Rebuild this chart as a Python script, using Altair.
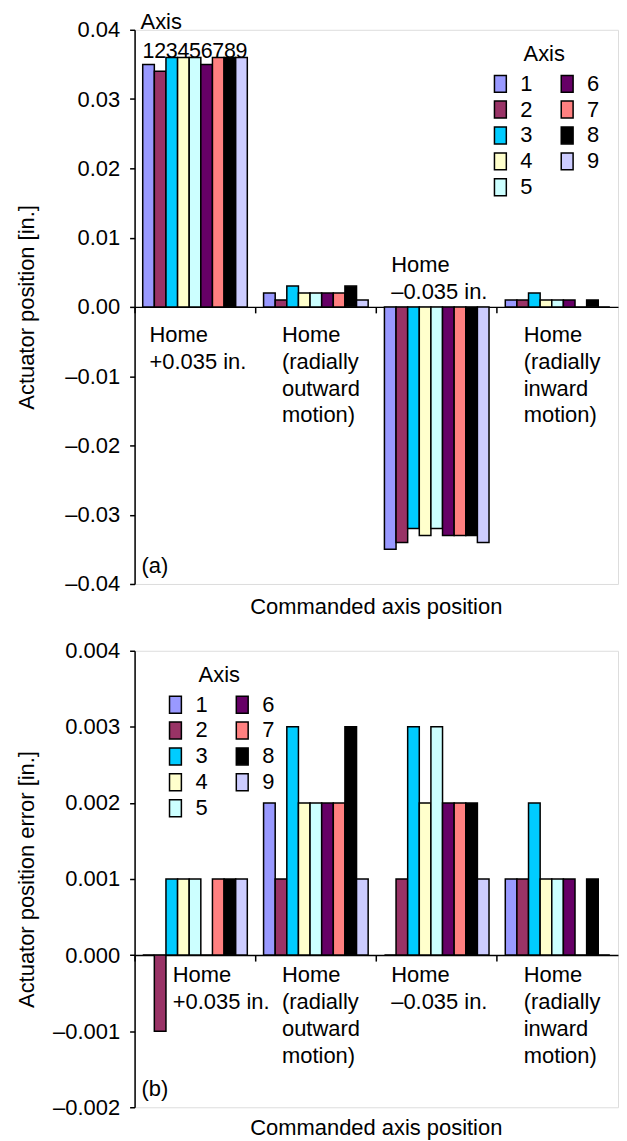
import altair as alt
import pandas as pd

FONT = "Liberation Sans"
FS = 22

# ---------------- data ----------------
axis_ids = ["1", "2", "3", "4", "5", "6", "7", "8", "9"]
axis_colors = ["#9999FF", "#993366", "#00CCFF", "#FFFFCC", "#CCFFFF",
               "#660066", "#FF8080", "#000000", "#CCCCFF"]

groups = ["g1", "g2", "g3", "g4"]

# (a) actuator position [in.]
pos_plus = [0.035, 0.034, 0.036, 0.036, 0.036, 0.035, 0.036, 0.036, 0.036]
pos_outward = [0.002, 0.001, 0.003, 0.002, 0.002, 0.002, 0.002, 0.003, 0.001]
pos_minus = [-0.035, -0.034, -0.032, -0.033, -0.032, -0.033, -0.033, -0.033, -0.034]
pos_inward = [0.001, 0.001, 0.002, 0.001, 0.001, 0.001, 0.0, 0.001, 0.0]

# (b) actuator position error [in.]
err_plus = [0.0, -0.001, 0.001, 0.001, 0.001, 0.0, 0.001, 0.001, 0.001]
err_outward = [0.002, 0.001, 0.003, 0.002, 0.002, 0.002, 0.002, 0.003, 0.001]
err_minus = [0.0, 0.001, 0.003, 0.002, 0.003, 0.002, 0.002, 0.002, 0.001]
err_inward = [0.001, 0.001, 0.002, 0.001, 0.001, 0.001, 0.0, 0.001, 0.0]

group_labels = ["Home\n+0.035 in.",
                "Home\n(radially\noutward\nmotion)",
                "Home\n\u20130.035 in.",
                "Home\n(radially\ninward\nmotion)"]
top_label_anchor = ["1", "2", "1", "2"]
top_label_above = [False, False, True, False]
bot_label_anchor = ["3", "2", "1", "2"]
bot_label_above = [False, False, False, False]

top_ticks = [-0.04, -0.03, -0.02, -0.01, 0.0, 0.01, 0.02, 0.03, 0.04]
bot_ticks = [-0.002, -0.001, 0.0, 0.001, 0.002, 0.003, 0.004]


def long_df(series):
    rows = []
    for g, vals in zip(groups, series):
        for a, v in zip(axis_ids, vals):
            rows.append({"grp": g, "axis": a, "value": v})
    return pd.DataFrame(rows)


def label_df(anchors, above):
    return pd.DataFrame({"grp": groups, "label": group_labels,
                         "anchor": anchors, "above": above})


x_scale = alt.Scale(domain=groups, paddingInner=0, paddingOuter=0)
xo_scale = alt.Scale(domain=axis_ids, paddingInner=0, paddingOuter=0.7)
color_scale = alt.Scale(domain=axis_ids, range=axis_colors)


def panel(df, ldf, ydom, yticks, dec, ytitle, W, H, zero_off, leg_xy, tag,
          lab_dy, title_off, extra=None):
    y_axis = alt.Axis(values=yticks, grid=False, domainColor="black", domainWidth=1.5,
                      tickColor="black", tickWidth=1.5, tickSize=5, labelPadding=10,
                      labelFontSize=FS, labelColor="black", labelFont=FONT,
                      labelExpr="(datum.value < -0.0000001 ? '\u2013' : '') + format(abs(datum.value), '.%df')" % dec,
                      title=ytitle, titleFontSize=FS, titleFontWeight="normal",
                      titleColor="black", titleFont=FONT, titleX=-96)
    x_axis = alt.Axis(orient="bottom", offset=zero_off, labels=False, title=None,
                      grid=False, domainColor="black", domainWidth=1.5,
                      ticks=True, tickColor="black", tickWidth=1.5, tickSize=6,
                      bandPosition=0)
    yenc = alt.Y("value:Q", scale=alt.Scale(domain=ydom, nice=False, zero=False),
                 axis=y_axis)
    bars = alt.Chart(df).mark_bar(stroke="black", strokeWidth=1.5).encode(
        x=alt.X("grp:N", scale=x_scale, axis=x_axis),
        xOffset=alt.XOffset("axis:N", scale=xo_scale),
        y=yenc,
        color=alt.Color("axis:N", scale=color_scale, legend=alt.Legend(
            orient="none", legendX=leg_xy[0], legendY=leg_xy[1], columns=2,
            title="Axis", titleAnchor="middle", titleFontSize=FS,
            titleFontWeight="normal", titleFont=FONT, titleColor="black",
            titlePadding=7, labelFontSize=FS, labelFont=FONT, labelColor="black",
            symbolType="M-0.7,-1H0.7V1H-0.7Z", symbolSize=289,
            symbolStrokeColor="black", symbolStrokeWidth=1.5, symbolOpacity=1,
            labelOffset=9, columnPadding=23, rowPadding=2, padding=0)),
    )
    below = alt.Chart(ldf).transform_filter("!datum.above").mark_text(
        align="left", baseline="top", dy=lab_dy, dx=1, fontSize=FS, font=FONT,
        lineBreak="\n", lineHeight=27, color="black").encode(
        x=alt.X("grp:N", scale=x_scale),
        xOffset=alt.XOffset("anchor:N", scale=xo_scale),
        y=alt.datum(0), text="label:N")
    layers = [bars, below]
    if any(ldf["above"]):
        above = alt.Chart(ldf).transform_filter("datum.above").mark_text(
            align="left", baseline="bottom", dy=-30, dx=1, fontSize=FS, font=FONT,
            lineBreak="\n", lineHeight=27, color="black").encode(
            x=alt.X("grp:N", scale=x_scale),
            xOffset=alt.XOffset("anchor:N", scale=xo_scale),
            y=alt.datum(0), text="label:N")
        layers.append(above)
    tag_df = pd.DataFrame({"grp": ["g1"], "anchor": ["1"], "tag": [tag]})
    tag_layer = alt.Chart(tag_df).mark_text(
        align="left", baseline="bottom", dy=-6, dx=-7, fontSize=FS, font=FONT,
        color="black").encode(
        x=alt.X("grp:N", scale=x_scale),
        xOffset=alt.XOffset("anchor:N", scale=xo_scale),
        y=alt.datum(ydom[0]), text="tag:N")
    layers.append(tag_layer)
    if extra:
        layers += extra
    return alt.layer(*layers).properties(
        width=W, height=H,
        title=alt.TitleParams("Commanded axis position", orient="bottom",
                              anchor="middle", frame="group", fontSize=FS,
                              fontWeight="normal", font=FONT, color="black",
                              offset=title_off),
    )


W = 485
H1 = 556
H2 = 458

# header "Axis" and digits 1..9 above first group in panel (a)
digits_df = pd.DataFrame({"grp": ["g1"] * 9, "axis": axis_ids})
digits = alt.Chart(digits_df).mark_text(
    baseline="top", dy=11, fontSize=21.5, font=FONT, color="black").encode(
    x=alt.X("grp:N", scale=x_scale),
    xOffset=alt.XOffset("axis:N", scale=xo_scale),
    y=alt.datum(0.04), text="axis:N")
head_df = pd.DataFrame({"grp": ["g1"], "anchor": ["1"], "txt": ["Axis"]})
head = alt.Chart(head_df).mark_text(
    align="left", baseline="alphabetic", dy=-1, dx=-8, fontSize=FS, font=FONT,
    color="black").encode(
    x=alt.X("grp:N", scale=x_scale),
    xOffset=alt.XOffset("anchor:N", scale=xo_scale),
    y=alt.datum(0.04), text="txt:N")

top = panel(long_df([pos_plus, pos_outward, pos_minus, pos_inward]),
            label_df(top_label_anchor, top_label_above),
            [-0.04, 0.04], top_ticks, 2, "Actuator position [in.]",
            W, H1, -(H1 / 2), (356, 14), "(a)", 18, 2, extra=[digits, head])

bot = panel(long_df([err_plus, err_outward, err_minus, err_inward]),
            label_df(bot_label_anchor, bot_label_above),
            [-0.002, 0.004], bot_ticks, 3, "Actuator position error [in.]",
            W, H2, -(H2 * 2 / 6), (30, 14), "(b)", 10, 0)

chart = alt.vconcat(top, bot, spacing=20).resolve_scale(
    color="independent", y="independent"
).properties(
    padding={"left": 7, "top": 0, "right": 0, "bottom": 0}
).configure_view(
    stroke="#9a9a9a", strokeWidth=1.5
).configure(font=FONT, background="white")

chart.save("out.html", embed_options={"renderer": "svg", "actions": False})
